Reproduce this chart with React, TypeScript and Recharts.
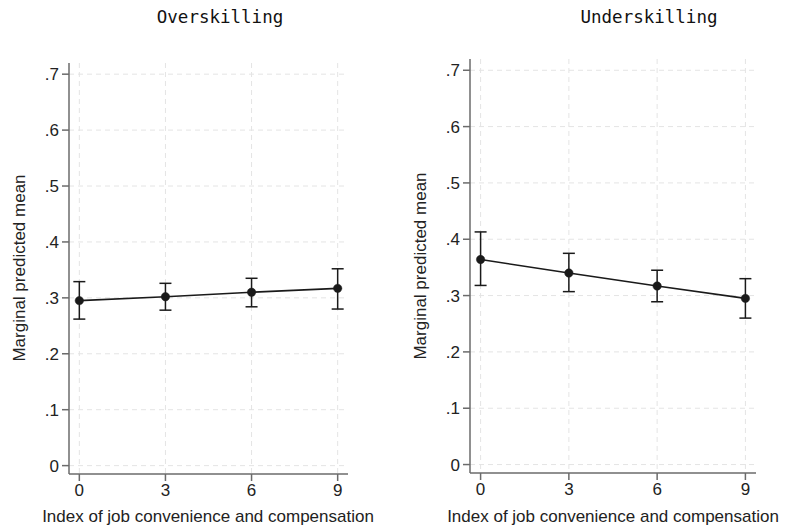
import React from 'react';
import { LineChart, Line, XAxis, YAxis, CartesianGrid, ErrorBar } from 'recharts';

// index of job convenience and compensation
const xValues = [0, 3, 6, 9];
const xTicks = [0, 3, 6, 9];
const yTicks = [0, 0.1, 0.2, 0.3, 0.4, 0.5, 0.6, 0.7];

// overskilling: predicted mean with 95% CI
const overMean = [0.295, 0.302, 0.31, 0.317];
const overLow = [0.262, 0.278, 0.284, 0.28];
const overHigh = [0.329, 0.326, 0.335, 0.352];

// underskilling
const underMean = [0.364, 0.34, 0.317, 0.295];
const underLow = [0.318, 0.307, 0.289, 0.26];
const underHigh = [0.413, 0.375, 0.345, 0.33];

const buildRows = (mean: number[], low: number[], high: number[]) =>
  xValues.map((x, i) => ({
    x,
    mean: mean[i],
    err: [mean[i] - low[i], high[i] - mean[i]],
  }));

const overRows = buildRows(overMean, overLow, overHigh);
const underRows = buildRows(underMean, underLow, underHigh);

const FONT = '"Liberation Sans", Arial, sans-serif';
const AXIS = '#6b6b6b';
const INK = '#1a1a1a';

const fmtY = (v: number) => (v === 0 ? '0' : v.toFixed(1).replace(/^0/, ''));

interface PanelProps {
  rows: Array<{ x: number; mean: number; err: number[] }>;
  width: number;
  yAxisWidth: number;
  top: number;
  right: number;
  xAxisHeight: number;
}

function Panel({ rows, width, yAxisWidth, top, right, xAxisHeight }: PanelProps) {
  const tick = { fill: '#222', fontSize: 17, fontFamily: FONT };
  return (
    <LineChart
      width={width}
      height={529}
      data={rows}
      margin={{ top, right, bottom: 0, left: 0 }}
    >
      <CartesianGrid
        stroke="#e4e4e4"
        strokeDasharray="5 4"
        horizontalValues={yTicks}
        verticalValues={xTicks}
      />
      <XAxis
        dataKey="x"
        type="number"
        domain={[-0.36, 9.36]}
        ticks={xTicks}
        height={xAxisHeight}
        tickSize={7}
        tickMargin={3}
        stroke={AXIS}
        strokeWidth={1.5}
        tick={tick}
        interval={0}
      />
      <YAxis
        type="number"
        domain={[-0.015, 0.72]}
        ticks={yTicks}
        width={yAxisWidth}
        tickSize={7}
        tickMargin={3}
        tickFormatter={fmtY}
        stroke={AXIS}
        strokeWidth={1.5}
        tick={tick}
        interval={0}
      />
      <Line
        dataKey="mean"
        type="linear"
        stroke={INK}
        strokeWidth={1.6}
        dot={{ r: 4.2, fill: INK, stroke: INK, strokeWidth: 0.5 }}
        isAnimationActive={false}
      >
        <ErrorBar dataKey="err" direction="y" width={6} stroke={INK} strokeWidth={1.5} />
      </Line>
    </LineChart>
  );
}

const textBase: React.CSSProperties = {
  position: 'absolute',
  whiteSpace: 'nowrap',
  color: '#222',
  fontFamily: FONT,
  fontSize: 17,
  transform: 'translate(-50%, -50%)',
};

const titleStyle: React.CSSProperties = {
  ...textBase,
  fontFamily: '"DejaVu Sans Mono", monospace',
  fontSize: 17.5,
  color: '#111',
};

const yTitle: React.CSSProperties = {
  ...textBase,
  transform: 'translate(-50%, -50%) rotate(-90deg)',
};

export default function App() {
  return (
    <div
      style={{
        position: 'absolute',
        left: 0,
        top: 0,
        width: 787,
        height: 529,
        background: '#fff',
        overflow: 'hidden',
      }}
    >
      <div style={{ position: 'absolute', left: 0, top: 0 }}>
        <Panel rows={overRows} width={380} yAxisWidth={69} top={63} right={32} xAxisHeight={55} />
      </div>
      <div style={{ position: 'absolute', left: 400, top: 0 }}>
        <Panel rows={underRows} width={387} yAxisWidth={70} top={59} right={31} xAxisHeight={56} />
      </div>

      <div style={{ ...titleStyle, left: 220, top: 17 }}>Overskilling</div>
      <div style={{ ...titleStyle, left: 649, top: 17 }}>Underskilling</div>

      <div style={{ ...yTitle, left: 20, top: 268 }}>Marginal predicted mean</div>
      <div style={{ ...yTitle, left: 421, top: 266 }}>Marginal predicted mean</div>

      <div style={{ ...textBase, left: 208, top: 517 }}>Index of job convenience and compensation</div>
      <div style={{ ...textBase, left: 613, top: 517 }}>Index of job convenience and compensation</div>
    </div>
  );
}
